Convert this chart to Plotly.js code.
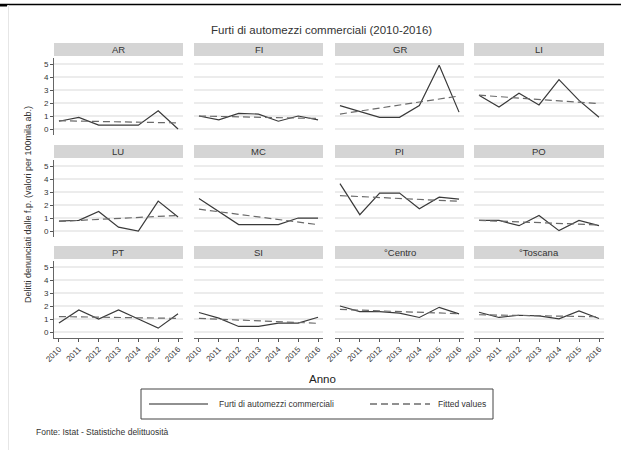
<!DOCTYPE html>
<html><head><meta charset="utf-8">
<script src="https://cdn.plot.ly/plotly-3.0.1.min.js"></script>
<style>html,body{margin:0;padding:0;background:#fff;}#chart{width:621px;height:450px;}</style>
</head><body><div id="chart"></div>
<script>
// ---- data ----
const years = [2010, 2011, 2012, 2013, 2014, 2015, 2016];
const fitYears = [2010, 2016];
const panelNames = ['AR', 'FI', 'GR', 'LI', 'LU', 'MC', 'PI', 'PO', 'PT', 'SI', '°Centro', '°Toscana'];
const yTicks = [0, 1, 2, 3, 4, 5];

const valAR = [0.6, 0.9, 0.3, 0.3, 0.3, 1.4, 0.0];
const valFI = [1.0, 0.7, 1.2, 1.15, 0.6, 1.0, 0.7];
const valGR = [1.8, 1.35, 0.9, 0.9, 1.8, 4.9, 1.3];
const valLI = [2.6, 1.7, 2.75, 1.85, 3.8, 2.2, 0.9];
const valLU = [0.77, 0.82, 1.5, 0.3, 0.0, 2.3, 1.08];
const valMC = [2.5, 1.5, 0.5, 0.5, 0.5, 1.0, 1.0];
const valPI = [3.64, 1.26, 2.92, 2.92, 1.72, 2.6, 2.46];
const valPO = [0.82, 0.82, 0.41, 1.2, 0.03, 0.82, 0.41];
const valPT = [0.7, 1.7, 1.0, 1.7, 1.0, 0.3, 1.4];
const valSI = [1.5, 1.07, 0.43, 0.43, 0.69, 0.69, 1.14];
const valCentro = [2.0, 1.57, 1.57, 1.45, 1.12, 1.9, 1.4];
const valToscana = [1.52, 1.12, 1.29, 1.24, 1.02, 1.62, 1.04];

const fitAR = [0.64, 0.47];
const fitFI = [1.0, 0.81];
const fitGR = [1.15, 2.54];
const fitLI = [2.6, 1.95];
const fitLU = [0.74, 1.2];
const fitMC = [1.68, 0.49];
const fitPI = [2.72, 2.29];
const fitPO = [0.82, 0.47];
const fitPT = [1.19, 1.05];
const fitSI = [1.05, 0.67];
const fitCentro = [1.74, 1.41];
const fitToscana = [1.33, 1.17];

const seriesVals = [valAR, valFI, valGR, valLI, valLU, valMC, valPI, valPO, valPT, valSI, valCentro, valToscana];
const seriesFit = [fitAR, fitFI, fitGR, fitLI, fitLU, fitMC, fitPI, fitPO, fitPT, fitSI, fitCentro, fitToscana];

const legendLabels = ['Furti di automezzi commerciali', 'Fitted values'];
const titleText = 'Furti di automezzi commerciali (2010-2016)';
const yTitle = 'Delitti denunciati dalle f.p. (valori per 100mila ab.)';
const xTitle = 'Anno';
const sourceText = 'Fonte: Istat - Statistiche delittuosità';

// ---- layout geometry (pixels) ----
const W = 621, H = 450;
const colX = [[54, 183], [194, 323], [335, 464], [474, 604]];
const rowY = [[57.5, 134.5], [159.5, 236.5], [260.5, 337.5]];
const stripH = 13;
const px = v => v / W;
const py = v => 1 - v / H;

const FONT = 'Liberation Sans, Arial, Helvetica, sans-serif';
const traces = [];
const layout = {
  width: W, height: H,
  margin: {l: 0, r: 0, t: 0, b: 0},
  paper_bgcolor: '#fff', plot_bgcolor: 'rgba(0,0,0,0)',
  showlegend: false,
  font: {family: FONT, color: '#333', size: 7},
  shapes: [], annotations: []
};

panelNames.forEach((name, i) => {
  const r = Math.floor(i / 4), c = i % 4;
  const n = i === 0 ? '' : String(i + 1);
  const xa = 'x' + n, ya = 'y' + n;
  traces.push({
    x: years, y: seriesVals[i], xaxis: xa, yaxis: ya, type: 'scatter', mode: 'lines',
    line: {color: '#3a3a3a', width: 1.2}, hoverinfo: 'skip'
  });
  traces.push({
    x: fitYears, y: seriesFit[i], xaxis: xa, yaxis: ya, type: 'scatter', mode: 'lines',
    line: {color: '#6a6a6a', width: 1.2, dash: '7px,4px'}, hoverinfo: 'skip'
  });
  const bottom = r === 2, left = c === 0;
  layout['xaxis' + n] = {
    domain: [px(colX[c][0]), px(colX[c][1])], anchor: ya,
    range: [2009.75, 2016.25], tickvals: years, ticktext: years.map(String),
    showticklabels: bottom, ticks: bottom ? 'outside' : '', ticklen: 3, tickcolor: '#555', tickwidth: 1,
    showline: bottom, linecolor: '#666', linewidth: 1, showgrid: false, zeroline: false,
    tickangle: -45, tickfont: {size: 8, color: '#333', family: FONT}, fixedrange: true
  };
  layout['yaxis' + n] = {
    domain: [py(rowY[r][1]), py(rowY[r][0])], anchor: xa,
    range: [-0.42, 5.5], tickvals: yTicks, ticktext: yTicks.map(String),
    showticklabels: left, ticks: left ? 'outside' : '', ticklen: 3, tickcolor: '#555', tickwidth: 1,
    showline: left, linecolor: '#666', linewidth: 1,
    showgrid: true, gridcolor: '#ececec', gridwidth: 1.5, zeroline: false,
    tickfont: {size: 8, color: '#333', family: FONT}, fixedrange: true
  };
  // strip
  layout.shapes.push({
    type: 'rect', xref: 'paper', yref: 'paper',
    x0: px(colX[c][0]), x1: px(colX[c][1]),
    y0: py(rowY[r][0] - 1.5), y1: py(rowY[r][0] - 1.5 - stripH),
    fillcolor: '#d5d5d5', line: {width: 0}, layer: 'below'
  });
  layout.annotations.push({
    xref: 'paper', yref: 'paper', x: px((colX[c][0] + colX[c][1]) / 2),
    y: py(rowY[r][0] - 1.5 - stripH / 2), text: name, showarrow: false,
    xanchor: 'center', yanchor: 'middle', font: {size: 9.5, color: '#333', family: FONT}
  });
});

// titles and texts
layout.annotations.push({xref: 'paper', yref: 'paper', x: px(321), y: py(30), text: titleText,
  showarrow: false, xanchor: 'center', yanchor: 'middle', font: {size: 11.5, color: '#333', family: FONT}});
layout.annotations.push({xref: 'paper', yref: 'paper', x: px(28), y: py(205), text: yTitle, textangle: -90,
  showarrow: false, xanchor: 'center', yanchor: 'middle', font: {size: 9, color: '#333', family: FONT}});
layout.annotations.push({xref: 'paper', yref: 'paper', x: px(322), y: py(379), text: xTitle,
  showarrow: false, xanchor: 'center', yanchor: 'middle', font: {size: 11.5, color: '#222', family: FONT}});
layout.annotations.push({xref: 'paper', yref: 'paper', x: px(34), y: py(432), text: sourceText,
  showarrow: false, xanchor: 'left', yanchor: 'middle', font: {size: 8.5, color: '#333', family: FONT}});

// legend box (drawn)
const lgY = 404;
layout.shapes.push({type: 'rect', xref: 'paper', yref: 'paper', x0: px(141), x1: px(493), y0: py(389), y1: py(419),
  line: {color: '#444', width: 1}, fillcolor: 'rgba(0,0,0,0)'});
layout.shapes.push({type: 'line', xref: 'paper', yref: 'paper', x0: px(149), x1: px(208), y0: py(lgY), y1: py(lgY),
  line: {color: '#222', width: 1.2}});
layout.shapes.push({type: 'line', xref: 'paper', yref: 'paper', x0: px(370), x1: px(430), y0: py(lgY), y1: py(lgY),
  line: {color: '#222', width: 1.2, dash: '7px,4px'}});
layout.annotations.push({xref: 'paper', yref: 'paper', x: px(217), y: py(lgY), text: legendLabels[0],
  showarrow: false, xanchor: 'left', yanchor: 'middle', font: {size: 8.5, color: '#333', family: FONT}});
layout.annotations.push({xref: 'paper', yref: 'paper', x: px(436), y: py(lgY), text: legendLabels[1],
  showarrow: false, xanchor: 'left', yanchor: 'middle', font: {size: 8.5, color: '#333', family: FONT}});

// page frame
layout.shapes.push({type: 'line', xref: 'paper', yref: 'paper', x0: 0, x1: 1, y0: py(4.5), y1: py(4.5),
  line: {color: '#000', width: 1.5}});
layout.shapes.push({type: 'rect', xref: 'paper', yref: 'paper', x0: 0, x1: px(7), y0: py(4), y1: py(6.5),
  line: {width: 0}, fillcolor: '#000'});
layout.shapes.push({type: 'line', xref: 'paper', yref: 'paper', x0: px(8.5), x1: px(8.5), y0: py(5), y1: 0,
  line: {color: '#e6e6e6', width: 1}});

Plotly.newPlot('chart', traces, layout, {staticPlot: true, displayModeBar: false});
</script></body></html>
